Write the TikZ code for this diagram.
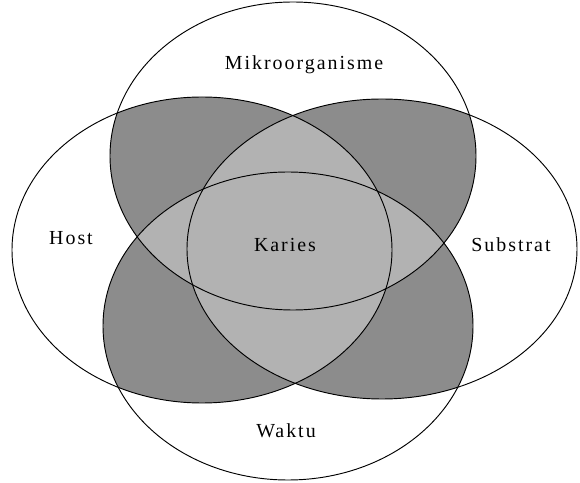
\documentclass[tikz,border=0pt]{standalone}
\usepackage{fontspec}
\setmainfont{Liberation Serif}[LetterSpace=10]
\definecolor{pairgray}{gray}{0.55}
\definecolor{coregray}{gray}{0.70}
\begin{document}
\begin{tikzpicture}[x=0.03cm, y=-0.03cm, font=\fontsize{17}{20}\selectfont,
    setlabel/.style={anchor=base, inner sep=0pt, black},
    rim/.style={line width=0.8pt, black}]
  \useasboundingbox (0,0) rectangle (580,483);
  \coordinate (M) at (293,156);
  \coordinate (H) at (202,250);
  \coordinate (S) at (382,249);
  \coordinate (W) at (288,326);
  \def\mikro{(M) ellipse [x radius=183, y radius=154]}
  \def\host{(H) ellipse [x radius=190, y radius=153]}
  \def\substr{(S) ellipse [x radius=195, y radius=150]}
  \def\waktu{(W) ellipse [x radius=185, y radius=154]}
  \begin{scope}
    \clip \mikro;
    \fill[pairgray] \host;
    \fill[pairgray] \substr;
    \fill[pairgray] \waktu;
  \end{scope}
  \begin{scope}
    \clip \host;
    \fill[pairgray] \substr;
    \fill[pairgray] \waktu;
  \end{scope}
  \begin{scope}
    \clip \substr;
    \fill[pairgray] \waktu;
  \end{scope}
  \begin{scope}
    \clip \mikro; \clip \host;
    \fill[coregray] \substr;
    \fill[coregray] \waktu;
  \end{scope}
  \begin{scope}
    \clip \waktu; \clip \substr;
    \fill[coregray] \mikro;
    \fill[coregray] \host;
  \end{scope}
  \draw[rim] \mikro;
  \draw[rim] \host;
  \draw[rim] \substr;
  \draw[rim] \waktu;
  \node[setlabel] (mikrolabel) at (304,70) {Mikroorganisme};
  \node[setlabel] (hostlabel) at (71,245) {Host};
  \node[setlabel] (karieslabel) at (285,252) {Karies};
  \node[setlabel] (substratlabel) at (511,252) {Substrat};
  \node[setlabel] (waktulabel) at (286,438) {Waktu};
\end{tikzpicture}
\end{document}
